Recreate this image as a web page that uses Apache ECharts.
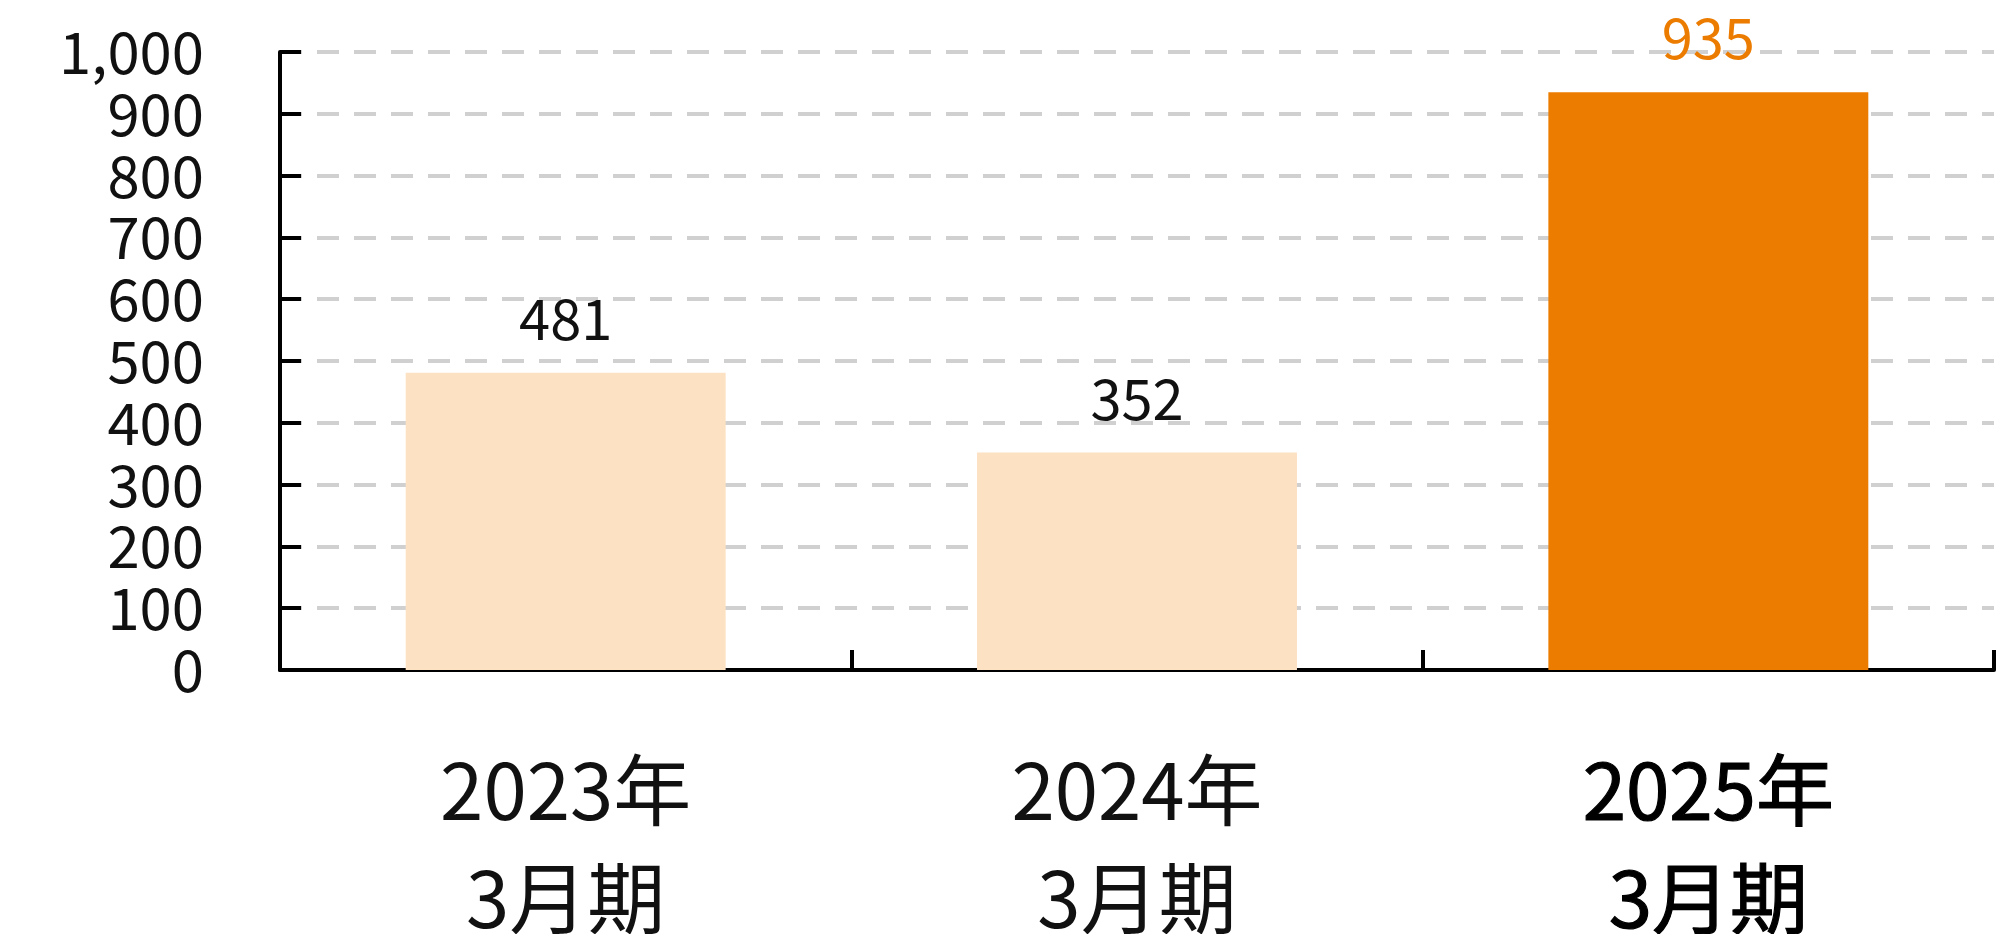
<!DOCTYPE html>
<html><head><meta charset="utf-8">
<script src="https://cdn.jsdelivr.net/npm/echarts@6/dist/echarts.min.js"></script>
<style>html,body{margin:0;padding:0;background:#fff}#c{width:2000px;height:934px}</style>
</head><body><div id="c"></div>
<script>
const categories = ['2023年\n3月期', '2024年\n3月期', '2025年\n3月期'];
const values = [481, 352, 935];
const barColors = ['#FDE1C3', '#FDE1C3', '#EC7C00'];
const labelColors = ['#111111', '#111111', '#EC7C00'];
const yTicks = { min: 0, max: 1000, interval: 100 };

const font = '"Noto Sans CJK JP", "Noto Sans", sans-serif';
const chart = echarts.init(document.getElementById('c'));
chart.setOption({
  animation: false,
  grid: { left: 280, right: 6, top: 52, bottom: 264, containLabel: false, outerBoundsMode: 'none' },
  xAxis: {
    type: 'category', data: categories,
    axisLine: { lineStyle: { color: '#000', width: 4 } },
    axisTick: { show: true, inside: true, length: 20, alignWithLabel: false, lineStyle: { color: '#000', width: 4 } },
    axisLabel: {
      margin: 66, color: '#111', fontFamily: font, fontSize: 78, lineHeight: 108,
      formatter: (v, i) => i === 2 ? '{b|' + v.split('\n').join('}\n{b|') + '}' : v,
      rich: { b: { fontSize: 78, lineHeight: 108, fontFamily: font, color: '#000',
        textBorderColor: '#000', textBorderWidth: 1.2 } }
    }
  },
  yAxis: {
    type: 'value', min: yTicks.min, max: yTicks.max, interval: yTicks.interval,
    axisLine: { show: true, lineStyle: { color: '#000', width: 4 } },
    axisTick: { show: true, inside: true, length: 21, lineStyle: { color: '#000', width: 4 } },
    axisLabel: { margin: 76, color: '#111', fontFamily: font, fontSize: 58,
      formatter: v => v.toLocaleString('en-US') },
    splitLine: { show: true, lineStyle: { color: '#d0d0d0', width: 4, type: [22, 15] } }
  },
  series: [{
    type: 'bar', barWidth: '56%',
    data: values.map((v, i) => ({ value: v, itemStyle: { color: barColors[i] },
      label: { color: labelColors[i] } })),
    label: { show: true, position: 'top', distance: 26, fontSize: 56, fontFamily: font }
  }]
});
</script></body></html>
